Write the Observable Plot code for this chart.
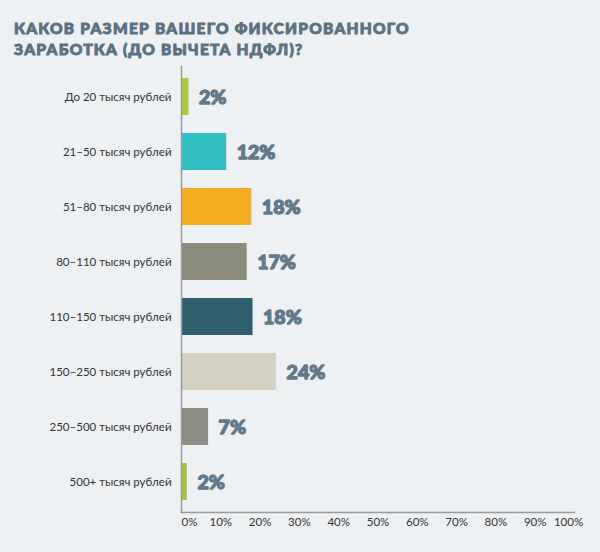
<!DOCTYPE html>
<html>
<head>
<meta charset="utf-8">
<script src="https://cdn.jsdelivr.net/npm/d3@7"></script>
<script src="https://cdn.jsdelivr.net/npm/@observablehq/plot@0.6"></script>
<style>
  html, body { margin: 0; padding: 0; background: #eef1f4; }
  #title {
    height: 60px; box-sizing: border-box; padding: 18px 0 0 14px;
    font-family: Lato, "DejaVu Sans", sans-serif; font-weight: 900;
    font-size: 15.5px; line-height: 21px; letter-spacing: 1.25px;
    color: #5b7080; text-transform: uppercase;
    -webkit-text-stroke: 0.9px #5b7080;
  }
  svg { display: block; }
</style>
</head>
<body>
<div id="title">Каков размер вашего фиксированного<br>заработка (до вычета НДФЛ)?</div>
<div id="chart"></div>
<script>
const categories = [
  "До 20 тысяч рублей",
  "21–50 тысяч рублей",
  "51–80 тысяч рублей",
  "80–110 тысяч рублей",
  "110–150 тысяч рублей",
  "150–250 тысяч рублей",
  "250–500 тысяч рублей",
  "500+ тысяч рублей"
];
const values = [1.9, 11.5, 17.9, 16.7, 18.2, 24.2, 6.9, 1.5];
const valueLabels = ["2%", "12%", "18%", "17%", "18%", "24%", "7%", "2%"];
const colors = ["#adc93a", "#33bfc1", "#f5ae20", "#8a8b7b", "#2f5f6e", "#d3d2c3", "#8d8e84", "#a9c53c"];
const xTicksMid = [10, 20, 30, 40, 50, 60, 70, 80, 90];

const data = categories.map((c, i) => ({cat: c, value: values[i], label: valueLabels[i], color: colors[i]}));
const fmt = d => d + "%";
const fontFam = "Lato, 'DejaVu Sans', sans-serif";

const chart = Plot.plot({
  width: 600,
  height: 492,
  marginTop: 6,
  marginBottom: 40,
  marginLeft: 181,
  marginRight: 26,
  style: {background: "transparent", fontFamily: fontFam, fontSize: "11.5px", color: "#333"},
  x: {domain: [0, 100]},
  y: {domain: categories, paddingInner: 0.32, paddingOuter: 0.16},
  marks: [
    Plot.barX(data, {y: "cat", x: "value", fill: "color"}),
    Plot.text(data, {
      y: "cat", x: "value", text: "label", textAnchor: "start", dx: 10, dy: 1,
      fill: "#62798a", stroke: "#62798a", strokeWidth: 1.3,
      fontSize: 19.5, fontWeight: 900, fontFamily: fontFam
    }),
    Plot.axisY({tickSize: 0, tickPadding: 10, label: null, fill: "#333", fontSize: 11.5}),
    Plot.axisX(xTicksMid, {tickSize: 0, tickPadding: 5, tickFormat: fmt, label: null, fill: "#333", fontSize: 11.5}),
    Plot.axisX([0], {tickSize: 0, tickPadding: 5, tickFormat: fmt, label: null, textAnchor: "start", fill: "#333", fontSize: 11.5}),
    Plot.axisX([100], {tickSize: 0, tickPadding: 5, tickFormat: fmt, label: null, dx: -6, fill: "#333", fontSize: 11.5}),
    Plot.frame({anchor: "left", stroke: "#9a9a9a", strokeWidth: 1.5}),
    Plot.frame({anchor: "bottom", stroke: "#9a9a9a", strokeWidth: 1.5})
  ]
});
document.getElementById("chart").appendChild(chart);
</script>
</body>
</html>
